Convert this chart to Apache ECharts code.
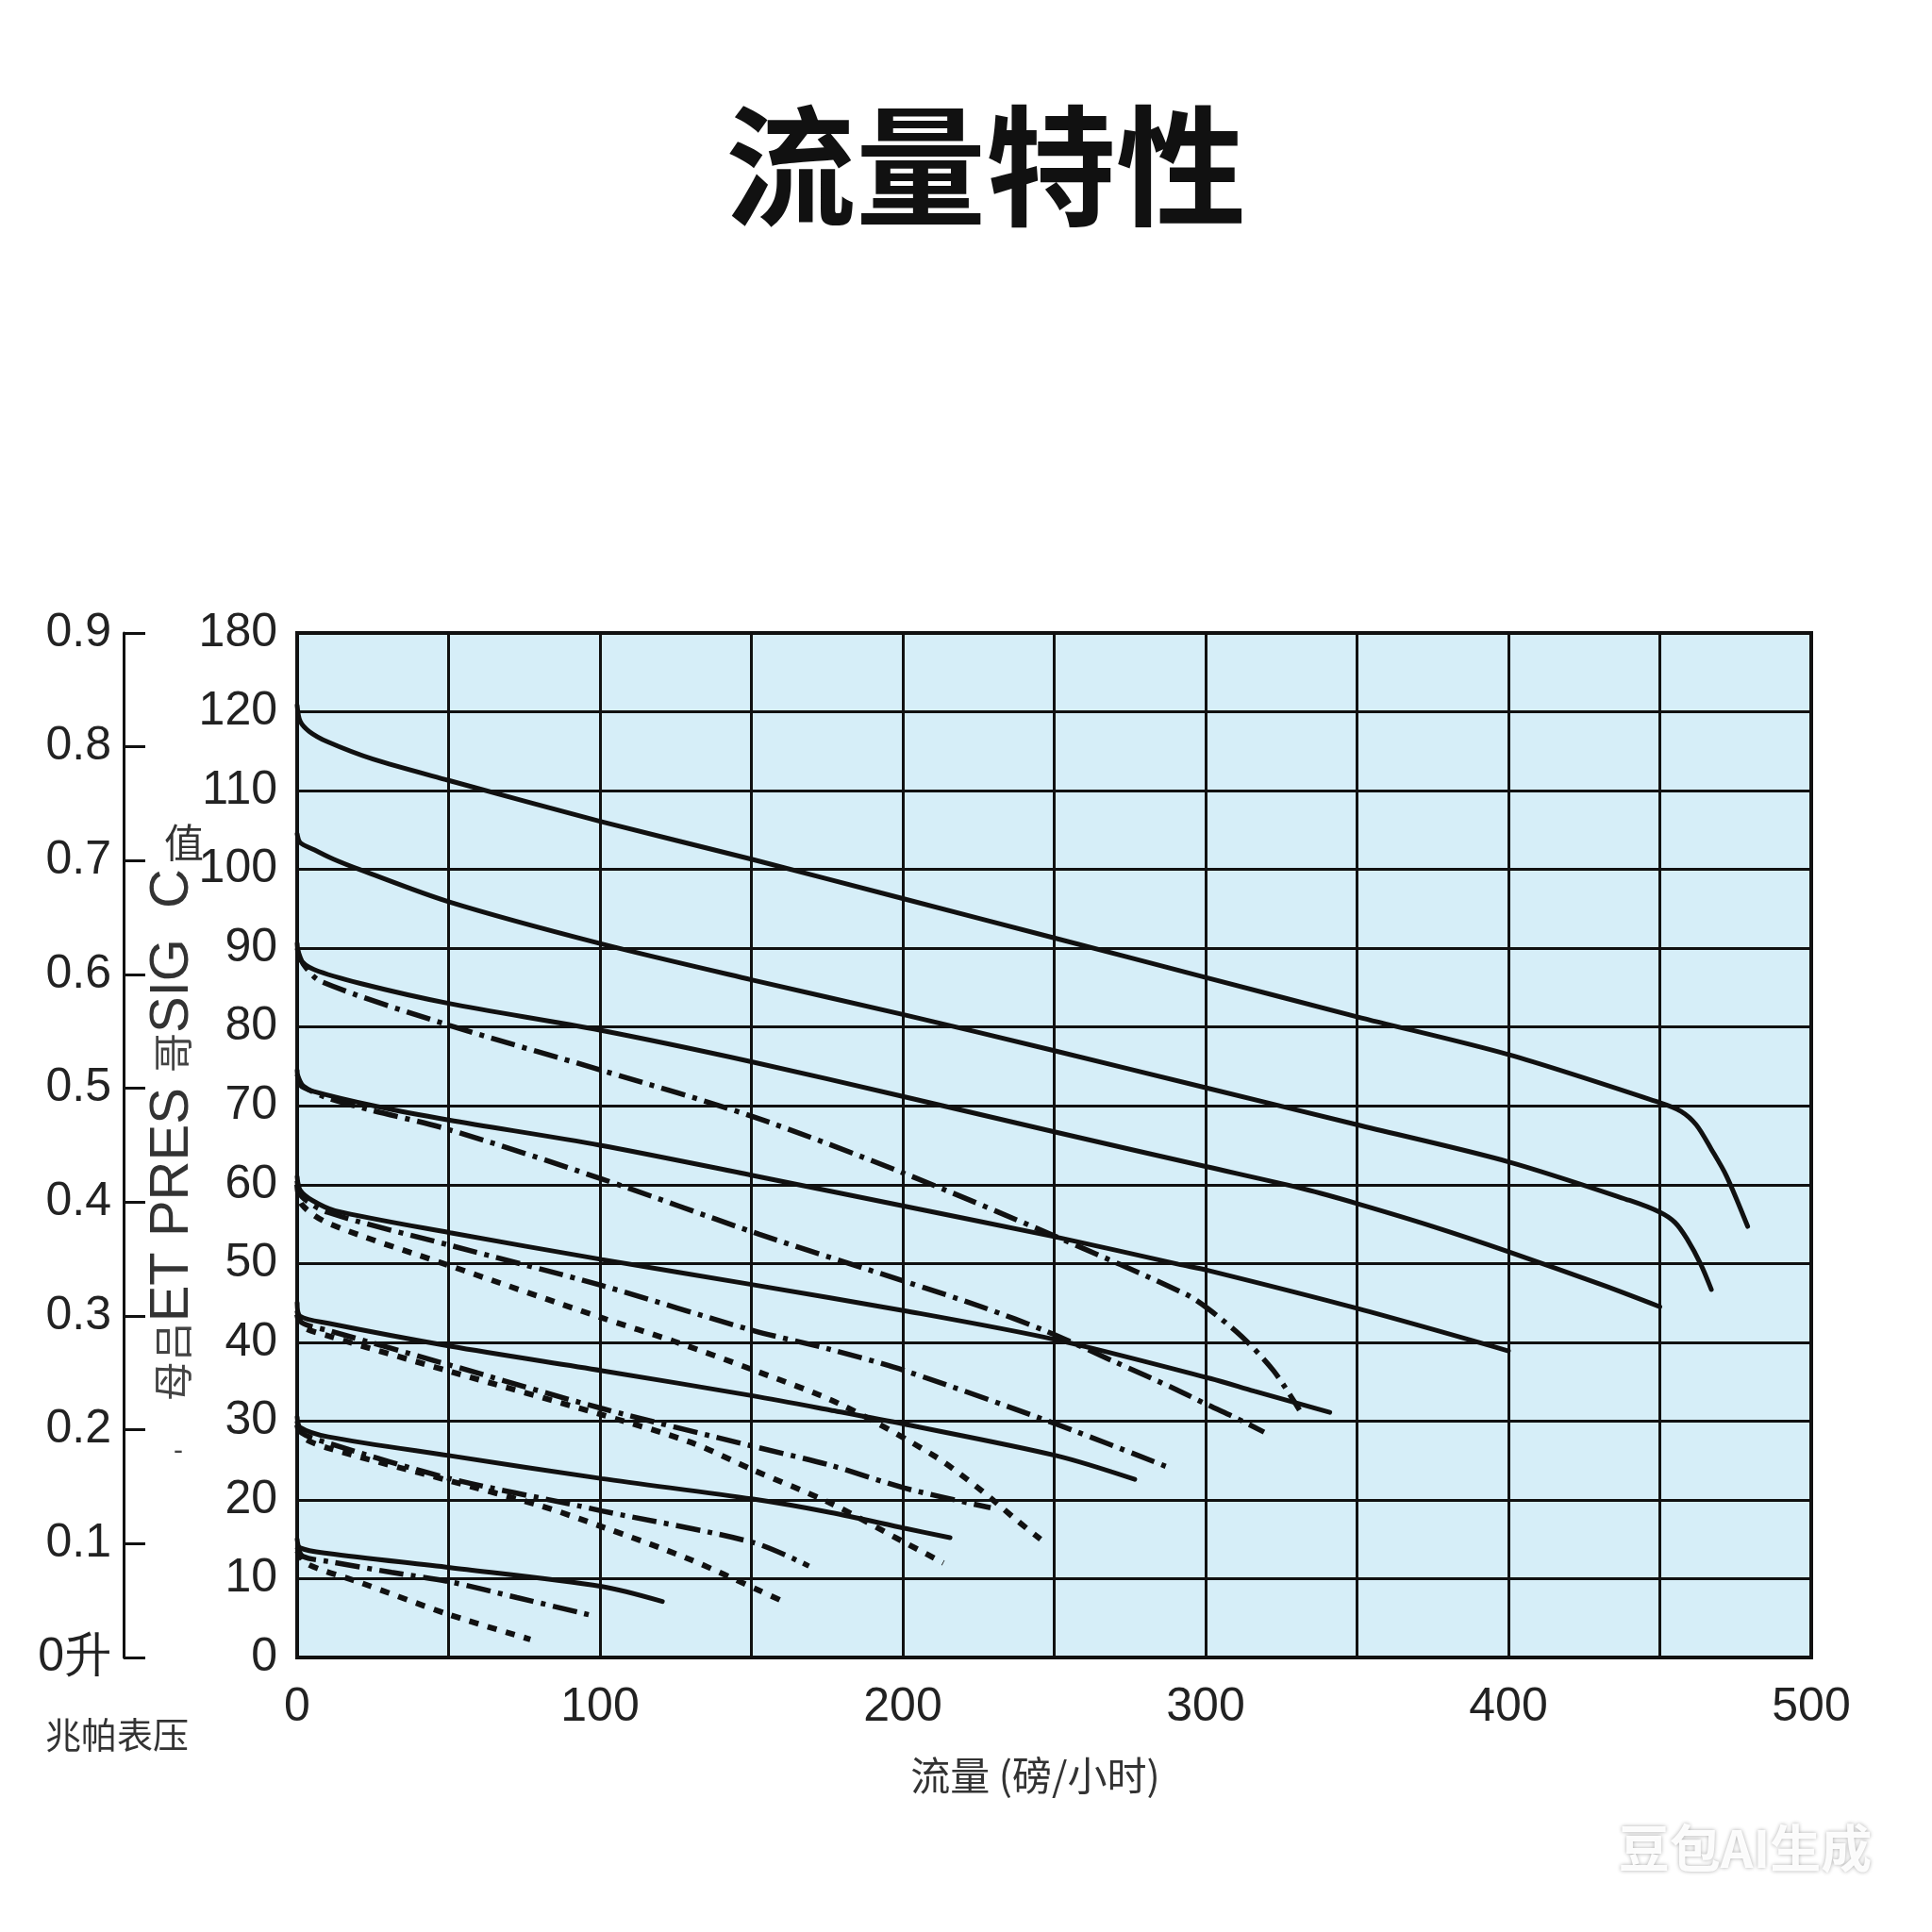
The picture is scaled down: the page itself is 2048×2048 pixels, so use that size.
<!DOCTYPE html>
<html>
<head>
<meta charset="utf-8">
<script src="https://cdn.jsdelivr.net/npm/echarts@6/dist/echarts.min.js"></script>
<style>
html,body{margin:0;padding:0;background:#fff;}
#chart{width:2048px;height:2048px;}
</style>
</head>
<body>
<div id="chart"></div>
<script>
// ---- tick labels ----
const xTickLabels = ['0', '100', '200', '300', '400', '500'];
const yTickLabels = ['0', '10', '20', '30', '40', '50', '60', '70', '80', '90', '100', '110', '120', '180'];
const leftTickLabels = ['0升', '0.1', '0.2', '0.3', '0.4', '0.5', '0.6', '0.7', '0.8', '0.9'];

// ---- solid curves [flow, value] ----
const solid1 = [[0,120.8],[1,118.8],[4,117.5],[10,116.2],[25,114.0],[50,111.3],[100,106.1],[150,101.3],[200,96.3],[250,91.3],[300,86.3],[350,81.3],[400,76.5],[450,70.4],[457,69.3],[462,67.6],[467,64.5],[472,61.1],[479,54.7]];
const solid2 = [[0,104.5],[1,103.4],[5.6,102.5],[12,101.3],[21.2,99.9],[50,95.9],[100,90.6],[150,86.0],[200,81.6],[250,77.0],[300,72.3],[350,67.6],[400,62.9],[440,58.0],[450,56.5],[455,55.2],[459,53.1],[463.5,49.9],[467,46.7]];
const solid3 = [[0,90.6],[1,88.6],[5.6,87.3],[21.2,85.5],[50,83.0],[100,79.6],[150,75.6],[200,71.2],[250,66.7],[300,62.3],[333,59.4],[350,57.6],[375,54.7],[400,51.5],[431.5,47.2],[450,44.5]];
const solid4 = [[0,74.5],[1,72.6],[5.6,71.8],[26.5,69.9],[50,68.2],[100,65.0],[150,61.2],[200,57.3],[250,53.4],[291,49.9],[301,49.1],[350,44.3],[400,38.9]];
const solid5 = [[0,61.0],[1,59.3],[5,58.0],[12.5,56.7],[50.5,53.9],[100.6,50.5],[150.5,47.3],[200.6,44.0],[250.8,40.3],[301.6,35.4],[316,33.8],[341,31.1]];
const solid6 = [[0,45.0],[1,43.3],[10.3,42.4],[50.5,39.5],[100.6,36.4],[150.5,33.2],[176,31.4],[200.6,29.6],[250.8,25.6],[276.6,22.6]];
const solid7 = [[0,30.5],[1,29.2],[10.3,28.0],[50.5,25.6],[100.6,22.7],[150.5,20.1],[176,18.4],[200.6,16.4],[215.6,15.2]];
const solid8 = [[0,15.0],[1,13.9],[10.3,13.2],[50.5,11.4],[100.6,9.0],[120.6,7.1]];

// ---- dash-dot curves ----
const dashDot1 = [[0,90.0],[2,88.0],[7.8,85.8],[50.4,80.2],[100.6,74.5],[150,68.7],[200,61.5],[250,53.5],[293.4,46.1],[301,44.2],[312,40.7],[322.4,36.4],[331,31.4]];
const dashDot2 = [[0,74.0],[2,72.5],[10,71.0],[24,69.5],[50,67.0],[100,60.8],[152.6,53.7],[200,47.8],[226,44.5],[248,41.3],[269.5,37.6],[290.3,34.0],[301,32.0],[310,30.4],[319.3,28.6]];
const dashDot3 = [[0,60.5],[1.5,58.5],[10,56.5],[50.5,52.3],[100.6,47.2],[150.5,41.5],[176,39.1],[200.6,36.4],[250.8,29.6],[287.2,24.2]];
const dashDot4 = [[0,44.0],[1.5,42.5],[10.3,41.5],[50.5,37.1],[100.6,31.6],[150.5,26.8],[176,24.4],[200.6,21.5],[229,19.0]];
const dashDot5 = [[0,30.0],[1.5,28.5],[10.3,27.2],[50.5,22.7],[93.5,19.2],[100.6,18.6],[150.5,14.6],[169,11.6]];
const dashDot6 = [[0,14.0],[2,12.8],[10,12.2],[31.2,10.8],[50.5,9.6],[72.6,7.6],[96.6,5.4]];

// ---- dotted curves ----
const dotted1 = [[0,60.0],[1.5,57.5],[10.3,55.1],[50.5,49.7],[100.6,43.1],[124.6,40.1],[150.5,36.5],[179,32.2],[210.3,25.6],[225.9,21.2],[238.3,17.2],[245.5,15.0]];
const dotted2 = [[0,43.5],[1.5,42.0],[10.3,40.8],[50.5,36.3],[100.6,30.8],[130,27.3],[150.5,23.8],[176,19.6],[200.6,14.6],[213.4,12.0]];
const dotted3 = [[0,29.5],[1.5,28.0],[10,26.6],[50.5,22.4],[80,19.3],[100.6,16.6],[128.7,12.6],[152.6,8.5],[160,7.2]];
const dotted4 = [[0,13.5],[3.1,11.9],[20.9,9.5],[50.5,5.4],[77,2.3]];

const NUM_FONT = "'Liberation Sans', Arial, sans-serif";
const CJK_FONT = "'Noto Sans CJK SC', 'Noto Sans', sans-serif";
const INK = '#111';

function mk(name, data, kind) {
  let ls;
  if (kind === 'solid') ls = { color: INK, width: 5, type: 'solid', cap: 'round' };
  else if (kind === 'dashdot') ls = { color: INK, width: 5.5, type: [26, 8, 5, 8], cap: 'butt' };
  else ls = { color: INK, width: 6, type: [10, 10], cap: 'butt' };
  return {
    name, type: 'line', data, xAxisIndex: 0, yAxisIndex: 0,
    symbol: 'none', smooth: 0.3,
    lineStyle: ls, silent: true, z: 3
  };
}

const series = [
  mk('s1', solid1, 'solid'), mk('s2', solid2, 'solid'), mk('s3', solid3, 'solid'), mk('s4', solid4, 'solid'),
  mk('s5', solid5, 'solid'), mk('s6', solid6, 'solid'), mk('s7', solid7, 'solid'), mk('s8', solid8, 'solid'),
  mk('dd1', dashDot1, 'dashdot'), mk('dd2', dashDot2, 'dashdot'), mk('dd3', dashDot3, 'dashdot'),
  mk('dd4', dashDot4, 'dashdot'), mk('dd5', dashDot5, 'dashdot'), mk('dd6', dashDot6, 'dashdot'),
  mk('dt1', dotted1, 'dotted'), mk('dt2', dotted2, 'dotted'), mk('dt3', dotted3, 'dotted'), mk('dt4', dotted4, 'dotted')
];

const chart = echarts.init(document.getElementById('chart'), null, { renderer: 'canvas', width: 2048, height: 2048 });
chart.setOption({
  animation: false,
  backgroundColor: '#ffffff',
  title: {
    text: '流量特性', left: 1040, top: 102, textAlign: 'center',
    textStyle: { fontSize: 138, fontWeight: 'bold', fontFamily: CJK_FONT, color: INK }
  },
  grid: {
    left: 315, right: 128, top: 671, bottom: 291,
    show: true, backgroundColor: '#d6eef8', borderColor: INK, borderWidth: 4, containLabel: false
  },
  xAxis: {
    type: 'value', min: 0, max: 500, interval: 50,
    axisLine: { show: false }, axisTick: { show: false },
    axisLabel: {
      margin: 28, fontSize: 50, fontFamily: NUM_FONT, color: '#222',
      formatter: v => (Math.round(v) % 100 === 0 ? xTickLabels[Math.round(v) / 100] : '')
    },
    splitLine: { show: true, lineStyle: { color: INK, width: 3 } },
    name: '流量 (磅/小时)', nameLocation: 'middle', nameGap: 104,
    nameTextStyle: { fontSize: 42, fontFamily: CJK_FONT, color: '#333', padding: [0, 40, 0, 0] }
  },
  yAxis: [
    {
      type: 'value', min: 0, max: 130, interval: 10, position: 'left',
      axisLine: { show: false }, axisTick: { show: false },
      axisLabel: {
        margin: 21, fontSize: 50, fontFamily: NUM_FONT, color: '#222',
        formatter: v => yTickLabels[Math.round(v / 10)]
      },
      splitLine: { show: true, lineStyle: { color: INK, width: 3 } }
    },
    {
      type: 'value', min: 0, max: 0.9, interval: 0.1, position: 'left', offset: 184,
      axisLine: { show: true, lineStyle: { color: INK, width: 3 } },
      axisTick: { show: true, inside: true, length: 23, lineStyle: { color: INK, width: 3 } },
      axisLabel: {
        margin: 13, fontSize: 50, fontFamily: NUM_FONT, color: '#222',
        formatter: v => leftTickLabels[Math.round(v * 10)]
      },
      splitLine: { show: false }
    }
  ],
  graphic: [
    {
      type: 'text', x: 124, y: 1839,
      style: { text: '兆帕表压', fontSize: 38, fontFamily: CJK_FONT, fill: '#333', align: 'center', verticalAlign: 'middle' }
    },
    {
      type: 'text', x: 183, y: 921, rotation: Math.PI / 2,
      style: {
        text: '{c|母吕}ET PRES {c|哥}SIG  C',
        rich: { c: { fontSize: 42, fontFamily: CJK_FONT, fill: '#444' } },
        fontSize: 58, fontFamily: "'Liberation Sans', Arial, sans-serif", fill: '#333',
        align: 'right', verticalAlign: 'middle'
      }
    },
    {
      type: 'text', x: 195, y: 893,
      style: { text: '值', fontSize: 42, fontFamily: CJK_FONT, fill: '#333', align: 'center', verticalAlign: 'middle' }
    },
    {
      type: 'text', x: 189, y: 1539,
      style: { text: '-', fontSize: 30, fontFamily: "'Liberation Sans', Arial, sans-serif", fill: '#444', align: 'center', verticalAlign: 'middle' }
    },
    {
      type: 'text', x: 1850, y: 1959,
      style: {
        text: '豆包AI生成', fontSize: 54, fontWeight: 'bold', fontFamily: CJK_FONT,
        fill: 'rgba(255,255,255,0.95)', align: 'center', verticalAlign: 'middle',
        textShadowColor: 'rgba(0,0,0,0.35)', textShadowBlur: 4
      }
    }
  ],
  series
});
</script>
</body>
</html>
